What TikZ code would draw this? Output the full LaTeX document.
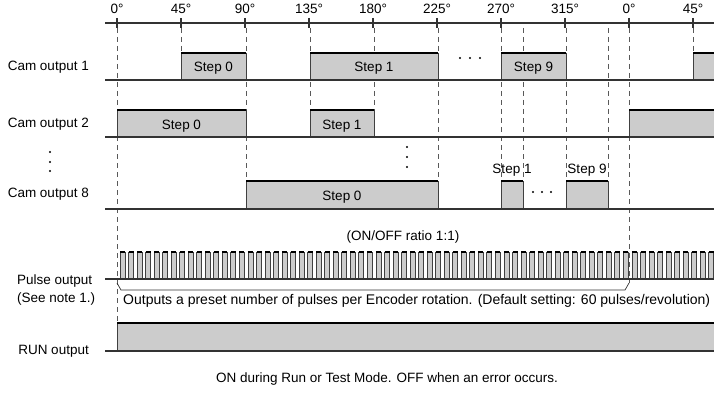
\documentclass[tikz,border=0pt]{standalone}
\usepackage{fontspec}
\setmainfont{Liberation Sans}
\usepackage{tikz}
\usetikzlibrary{shapes,arrows}

% caja de un paso: x1, x2, y alto, y base
\newcommand{\pasobox}[4]{%
	\fill[black!20] (#1,#3) rectangle (#2,#4);
	\draw[borde] (#1,#4) -- (#1,#3) (#2,#3) -- (#2,#4);
	\draw[tope] (#1,#3) -- (#2,#3);}

\begin{document}
\begin{tikzpicture}[x=1pt,y=-1pt,
	every node/.style={font=\fontsize{13.5}{16}\selectfont, inner sep=0pt},
	linea/.style={line width=1.1pt, draw=black!80},
	guia/.style={dash pattern=on 5pt off 4pt, line width=0.9pt, draw=black!65},
	borde/.style={line width=0.9pt, draw=black!75},
	tope/.style={line width=2.6pt, draw=black}]
	\useasboundingbox (0,0) rectangle (714,393);
	% eje de angulos
	\draw[linea] (105,23) -- (714,23);
	\foreach \i/\a in {0/0,1/45,2/90,3/135,4/180,5/225,6/270,7/315,8/0,9/45}{
		\draw[linea] ({117+64*\i},18) -- ({117+64*\i},28);
		\node (g\i) at ({117+64*\i},9) {\a°};
	}
	% lineas guia
	\foreach \x/\y in {117/323,181/53,246/181,310/110,374/110,438/181,501/181,523/181,566/181,608/181,629/283,693/53}
		\draw[guia] (\x,28) -- (\x,\y);
	% salidas de leva
	\pasobox{181}{246}{53}{80}
	\pasobox{310}{438}{53}{80}
	\pasobox{501}{566}{53}{80}
	\pasobox{693}{716}{53}{80}
	\pasobox{117}{246}{110}{137}
	\pasobox{310}{374}{110}{137}
	\pasobox{629}{716}{110}{137}
	\pasobox{246}{438}{181}{209}
	\pasobox{501}{523}{181}{209}
	\pasobox{566}{608}{181}{209}
	% pulsos
	\foreach \k in {0,...,69}
		\pasobox{120+8.533*\k}{125+8.533*\k}{252}{279}
	% RUN
	\pasobox{117}{716}{323}{351}
	% lineas base
	\foreach \y in {80,137,209,279,351}
		\draw[linea] (105,\y) -- (714,\y);
	% corchete
	\draw[line width=0.7pt, black!80] (117,283) -- (121,290) -- (625,290) -- (629,283);
	% puntos
	\foreach \y in {152,162,171} \fill (50,\y) circle (1.1);
	\foreach \y in {147,157,167} \fill (407,\y) circle (1.1);
	\foreach \x in {460,470,480} \fill (\x,58) circle (1.1);
	\foreach \x in {533,542,551} \fill (\x,192) circle (1.1);
	% textos
	\node[anchor=east] (cam1) at (89,67) {Cam output 1};
	\node[anchor=east] (cam2) at (89,124) {Cam output 2};
	\node[anchor=east] (cam8) at (89,194) {Cam output 8};
	\node[anchor=west] (pulso) at (17,281) {Pulse output};
	\node[anchor=west] (nota) at (17,299) {(See note 1.)};
	\node[anchor=east] (run) at (89,351) {RUN output};
	\node (s10) at (213.5,68) {Step 0};
	\node (s11) at (374,68) {Step 1};
	\node (s19) at (533.5,68) {Step 9};
	\node (s20) at (181.5,126) {Step 0};
	\node (s21) at (342,126) {Step 1};
	\node (s80) at (342,197) {Step 0};
	\node (s81) at (512,170) {Step 1};
	\node (s89) at (587,170) {Step 9};
	\node (ratio) at (403,237) {(ON/OFF ratio 1:1)};
	\node[anchor=west, font=\fontsize{14}{16}\selectfont] (preset) at (123,301) {Outputs a preset number of pulses per Encoder rotation. (Default setting: 60 pulses/revolution)};
	\node (modo) at (387,379) {ON during Run or Test Mode. OFF when an error occurs.};
\end{tikzpicture}
\end{document}
